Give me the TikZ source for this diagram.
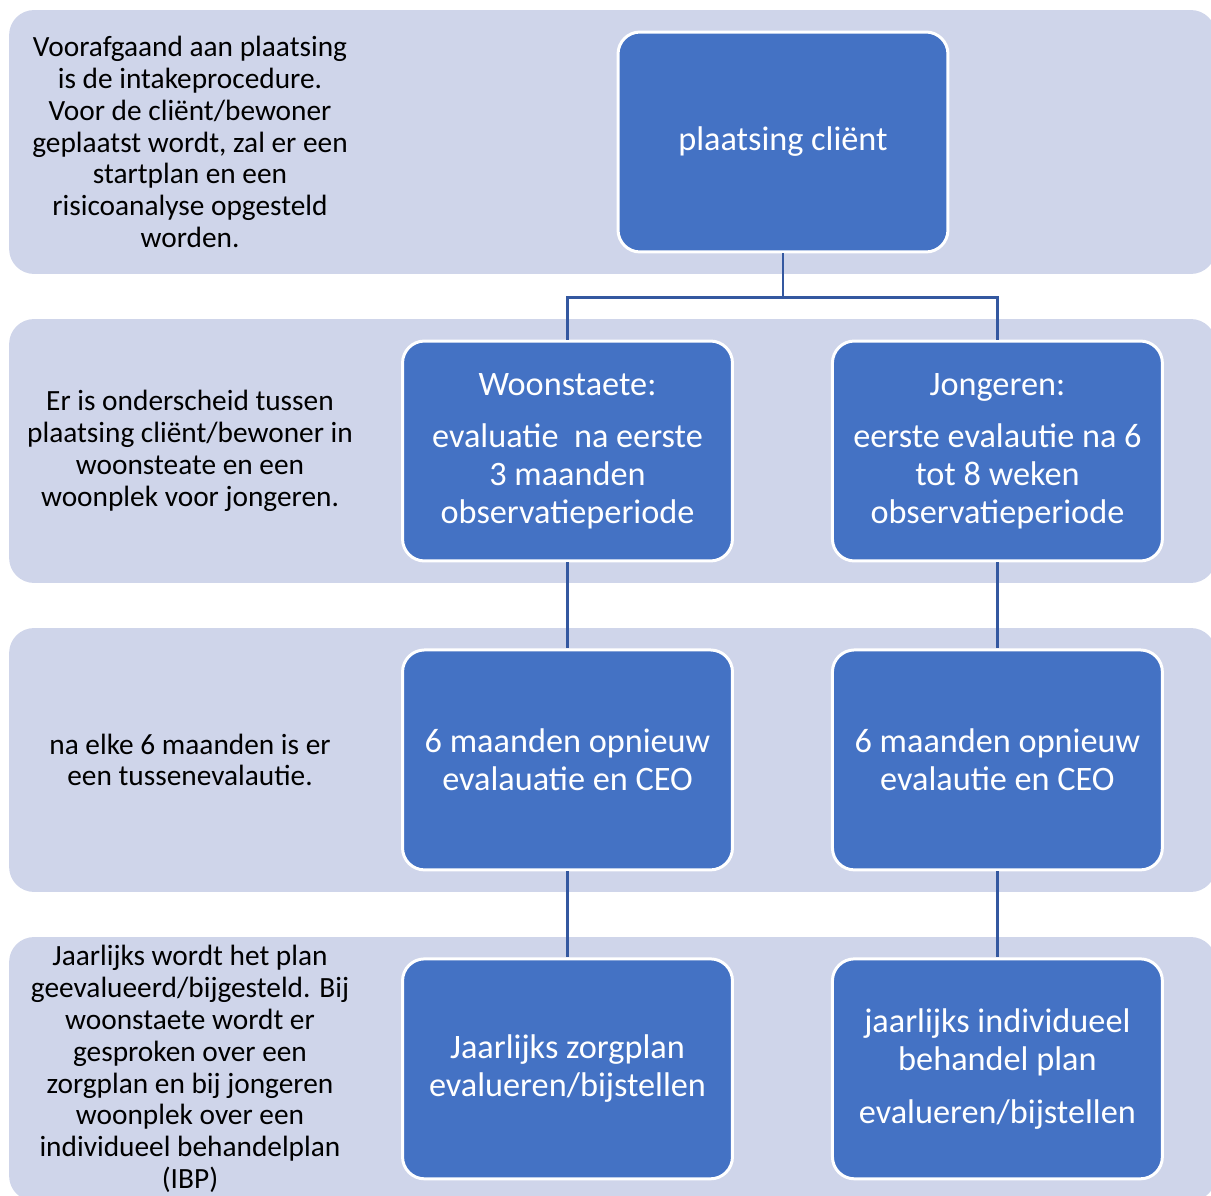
\documentclass[tikz,border=0pt]{standalone}
\usepackage{fontspec}
\setmainfont{Carlito}
\usepackage{xcolor}
\usetikzlibrary{positioning,calc}
\definecolor{bandbg}{RGB}{207,213,234}
\definecolor{blkbg}{RGB}{68,114,196}
\definecolor{connc}{RGB}{52,88,160}

\begin{document}
\begin{tikzpicture}[x=0.02cm,y=-0.02cm,
  band/.style={fill=bandbg,draw=none,rounded corners=0.5cm,minimum width=24.14cm,minimum height=5.28cm,inner sep=0pt},
  blk/.style={fill=blkbg,draw=white,line width=1.7pt,rounded corners=0.44cm,minimum width=6.6cm,minimum height=4.4cm,
              align=center,text=white,font=\fontsize{19.5}{21.5}\selectfont,inner sep=2pt},
  note/.style={align=center,font=\fontsize{16.7}{18.1}\selectfont,inner sep=0pt},
  conn/.style={draw=connc,line width=1.4pt}]
  \clip (0,0) rectangle (1211,1196);

  % ---------- bands ----------
  \node[band] (b1) at (612.5,142) {};
  \node[band] (b2) at (612.5,451) {};
  \node[band] (b3) at (612.5,760) {};
  \node[band] (b4) at (612.5,1069) {};

  % ---------- notes ----------
  \node[note] (n1) at (190,142) {Voorafgaand aan plaatsing\\is de intakeprocedure.\\Voor de cliënt/bewoner\\geplaatst wordt, zal er een\\startplan en een\\risicoanalyse opgesteld\\worden.};
  \node[note] (n2) at (190,451) {Er is onderscheid tussen\\plaatsing cliënt/bewoner in\\woonsteate en een\\woonplek voor jongeren.};
  \node[note] (n3) at (190,760) {na elke 6 maanden is er\\een tussenevalautie.};
  \node[note] (n4) at (190,1069) {Jaarlijks wordt het plan\\geevalueerd/bijgesteld. Bij\\woonstaete wordt er\\gesproken over een\\zorgplan en bij jongeren\\woonplek over een\\individueel behandelplan\\(IBP)};

  % ---------- blocks ----------
  \node[blk] (plc) at (783,142) {plaatsing cliënt};
  \node[blk] (ws1) at (567.5,451) {Woonstaete:\\[8.5pt]evaluatie\ \ na eerste\\3 maanden\\observatieperiode};
  \node[blk,right=1.94cm of ws1] (jg1) {Jongeren:\\[8.5pt]eerste evalautie na 6\\tot 8 weken\\observatieperiode};
  \node[blk,below=1.72cm of ws1] (ws2) {6 maanden opnieuw\\evalauatie en CEO};
  \node[blk,below=1.72cm of jg1] (jg2) {6 maanden opnieuw\\evalautie en CEO};
  \node[blk,below=1.72cm of ws2] (ws3) {Jaarlijks zorgplan\\evalueren/bijstellen};
  \node[blk,below=1.72cm of jg2] (jg3) {jaarlijks individueel\\behandel plan\\[8.5pt]evalueren/bijstellen};

  % ---------- connectors ----------
  \draw[conn] (plc.south) -- ++(0,-0.88cm) -| (ws1.north);
  \draw[conn] (plc.south) -- ++(0,-0.88cm) -| (jg1.north);
  \draw[conn] (ws1) -- (ws2);
  \draw[conn] (ws2) -- (ws3);
  \draw[conn] (jg1) -- (jg2);
  \draw[conn] (jg2) -- (jg3);
\end{tikzpicture}
\end{document}
